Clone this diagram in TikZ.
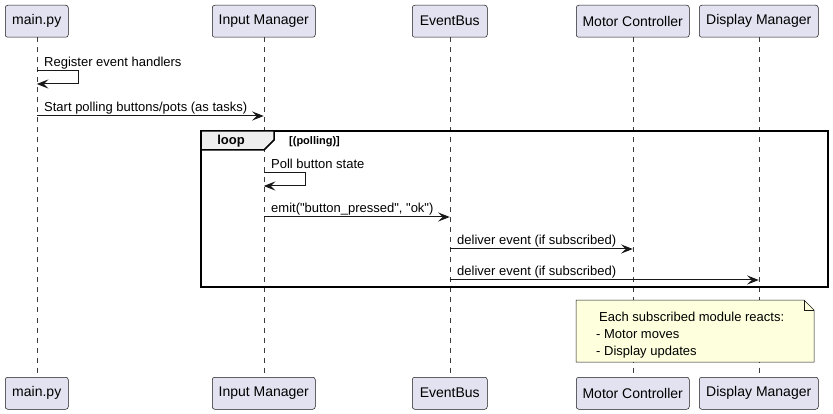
\documentclass[tikz,border=0pt]{standalone}
\usepackage{fontspec}
\setmainfont{Liberation Sans}[Ligatures=TeXOff]
\usetikzlibrary{arrows.meta,calc}
\definecolor{partfill}{HTML}{E2E2F0}
\definecolor{lineclr}{HTML}{181818}
\definecolor{notefill}{HTML}{FEFFDD}
\definecolor{tabfill}{HTML}{EEEEEE}
\begin{document}
\begin{tikzpicture}[x=1pt,y=-1pt,
 part/.style={draw=lineclr, fill=partfill, line width=0.5pt, rounded corners=2.5pt, minimum height=32pt, inner sep=0pt, font=\fontsize{14}{16}\selectfont, anchor=north west},
 life/.style={draw=lineclr!85, line width=0.5pt, dash pattern=on 5pt off 5pt},
 msg/.style={draw=lineclr, line width=1pt, -{Stealth[length=11.5pt,width=9pt,inset=4.5pt]}},
 mtext/.style={font=\fontsize{13}{15}\selectfont, anchor=base west, inner sep=0pt},
 ntext/.style={font=\fontsize{13}{15}\selectfont, anchor=base west, inner sep=0pt},
]
\useasboundingbox (0,0) rectangle (833,414);
\fill[white] (0,0) rectangle (833,414);
% participants
\node[part, minimum width=63pt]  (mainT) at (5,5)   {main.py};
\node[part, minimum width=103pt] (inT)   at (212,5) {Input Manager};
\node[part, minimum width=75pt]  (busT)  at (412,5) {EventBus};
\node[part, minimum width=113pt] (motT)  at (576,5) {Motor Controller};
\node[part, minimum width=119pt] (dispT) at (699,5) {Display Manager};
\node[part, minimum width=63pt]  (mainB) at (5,377)   {main.py};
\node[part, minimum width=103pt] (inB)   at (212,377) {Input Manager};
\node[part, minimum width=75pt]  (busB)  at (412,377) {EventBus};
\node[part, minimum width=113pt] (motB)  at (576,377) {Motor Controller};
\node[part, minimum width=119pt] (dispB) at (699,377) {Display Manager};
% lifelines
\draw[life] (mainT.south) -- (mainB.north);
\draw[life] (inT.south) -- (inB.north);
\draw[life] (busT.south) -- (busB.north);
\draw[life] (motT.south) -- (motB.north);
\draw[life] (dispT.south) -- (dispB.north);
% loop frame
\draw[line width=1.5pt, draw=black] (201,131) rectangle (828,287);
\draw[line width=1.5pt, draw=black, fill=tabfill] (201,131) -- (274,131) -- (274,140) -- (264,150) -- (201,150) -- cycle;
\node[font=\fontsize{13}{15}\selectfont\bfseries, inner sep=0pt] (looplbl) at (231,141.5) {loop};
\node[font=\fontsize{11}{13}\selectfont\bfseries, anchor=base west, inner sep=0pt] (loopcond) at (289,145) {[(polling)]};
% messages
\draw[msg] (mainT.south |- 0,71) -- ++(42,0) -- ++(0,13) -- (mainT.south |- 0,84);
\node[mtext] (t1) at (44,67) {Register event handlers};
\draw[msg] (mainT.south |- 0,116) -- (inT.south |- 0,116);
\node[mtext] (t2) at (44,112) {Start polling buttons/pots (as tasks)};
\draw[msg] (inT.south |- 0,173) -- ++(42,0) -- ++(0,13) -- (inT.south |- 0,186);
\node[mtext] (t3) at (271,169) {Poll button state};
\draw[msg] (inT.south |- 0,217) -- (busT.south |- 0,217);
\node[mtext] (t4) at (271,213) {emit("button\_pressed", "ok")};
\draw[msg] (busT.south |- 0,249) -- (motT.south |- 0,249);
\node[mtext] (t5) at (457,245) {deliver event (if subscribed)};
\draw[msg] (busT.south |- 0,280) -- (dispT.south |- 0,280);
\node[mtext] (t6) at (457,276) {deliver event (if subscribed)};
% note
\draw[fill=notefill, draw=lineclr, line width=0.5pt] (576,300) -- (804,300) -- (814,310) -- (814,362) -- (576,362) -- cycle;
\draw[draw=lineclr, line width=0.5pt] (804,300) -- (804,310) -- (814,310);
\node[ntext] (n1) at (599,321) {Each subscribed module reacts:};
\node[ntext] (n2) at (596,338) {- Motor moves};
\node[ntext] (n3) at (596,355) {- Display updates};
\end{tikzpicture}
\end{document}
